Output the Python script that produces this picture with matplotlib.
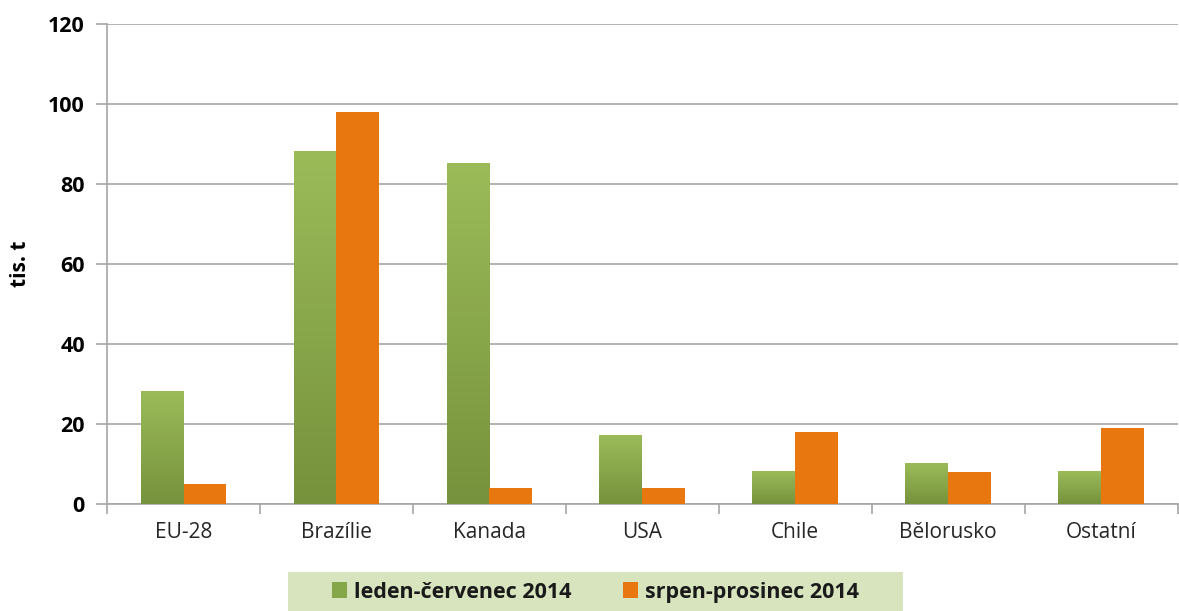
import numpy as np
import matplotlib.pyplot as plt
from matplotlib.colors import LinearSegmentedColormap
from matplotlib.patches import Patch, Rectangle

categories = ['EU-28', 'Brazílie', 'Kanada', 'USA', 'Chile', 'Bělorusko', 'Ostatní']
leden_cervenec = [28, 88, 85, 17, 8, 10, 8]
srpen_prosinec = [5, 98, 4, 4, 18, 8, 19]
series_names = ['leden-červenec 2014', 'srpen-prosinec 2014']

plt.rcParams['font.family'] = ['Open Sans', 'DejaVu Sans']

fig = plt.figure(figsize=(11.79, 6.11), dpi=100)
ax = fig.add_axes([0.0908, 0.1751, 0.908, 0.7856])

green_cmap = LinearSegmentedColormap.from_list('g', ['#76923C', '#9BBB59'])
orange = '#E8770F'
width = 0.28
x = np.arange(len(categories))

# green bars with a vertical gradient
grad = np.linspace(0, 1, 256).reshape(-1, 1)
for i, v in enumerate(leden_cervenec):
    ax.imshow(grad, extent=[x[i] - width, x[i], 0, v], origin='lower',
              aspect='auto', cmap=green_cmap, zorder=3)
ax.bar(x + width / 2, srpen_prosinec, width, color=orange, zorder=3)

ax.set_xlim(-0.5, len(categories) - 0.5)
ax.set_ylim(0, 120)
ax.set_yticks(range(0, 121, 20))
ax.yaxis.grid(True, color='#A6A6A6', linewidth=1.2, zorder=0)
ax.set_axisbelow(True)

ax.set_xticks(x)
ax.set_xticklabels(categories, fontsize=15, color='#262626')
ax.set_xticks(np.arange(-0.5, len(categories), 1), minor=True)
ax.tick_params(axis='x', which='major', length=0, pad=13)
ax.tick_params(axis='x', which='minor', length=7, color='#A6A6A6', width=1.2)
ax.tick_params(axis='y', length=8, color='#A6A6A6', width=1.2, pad=8)
for lab in ax.get_yticklabels():
    lab.set_fontweight('bold')
    lab.set_fontsize(15.5)

for s in ['top', 'right']:
    ax.spines[s].set_visible(False)
for s in ['left', 'bottom']:
    ax.spines[s].set_color('#A6A6A6')
    ax.spines[s].set_linewidth(1.2)

ax.set_ylabel('tis. t', fontsize=15, fontweight='bold', labelpad=12)

# legend band
fig.add_artist(Rectangle((288 / 1179, 0), 615 / 1179, 39 / 611,
                         transform=fig.transFigure, facecolor='#D7E4BD',
                         edgecolor='none', zorder=0))
handles = [Patch(facecolor='#86A64A', edgecolor='none'),
           Patch(facecolor=orange, edgecolor='none')]
leg = fig.legend(handles, series_names, loc='center', ncol=2,
                 bbox_to_anchor=(0.505, 0.031), frameon=False, fontsize=15.5,
                 handlelength=0.7, handleheight=0.7, handletextpad=0.3,
                 columnspacing=2.4, borderpad=0, borderaxespad=0)
for t in leg.get_texts():
    t.set_fontweight('bold')
    t.set_color('#1a1a1a')

fig.savefig('out.png', dpi=100)
